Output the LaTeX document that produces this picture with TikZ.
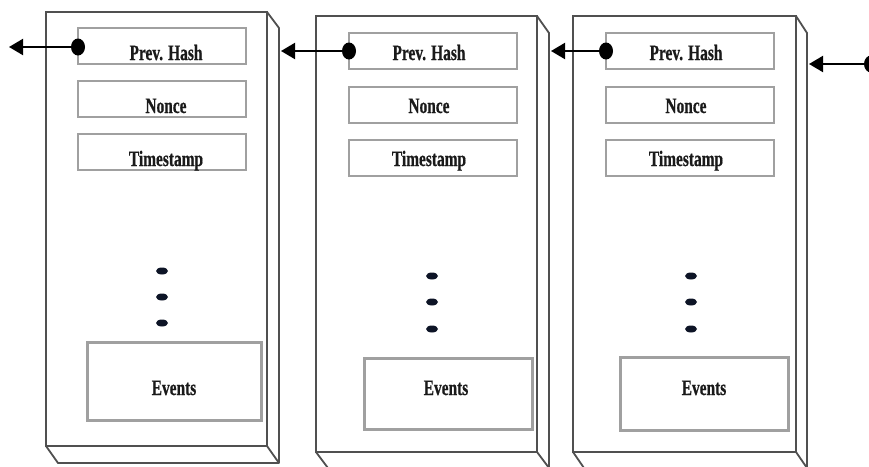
\documentclass[tikz,border=0pt]{standalone}
\usepackage{fontspec}
\setmainfont{Liberation Serif}
\newfontfamily\lblfont[FakeStretch=0.70,FakeBold=0.6]{Liberation Serif}
\usetikzlibrary{arrows.meta,shapes.geometric}
\definecolor{edge}{HTML}{505050}
\definecolor{fieldc}{HTML}{A0A0A0}
\definecolor{ink}{HTML}{1A1A1A}
\definecolor{dotc}{HTML}{0D1426}
\begin{document}
\begin{tikzpicture}[x=1pt,y=-1pt,
  outer/.style={draw=edge,line width=1.8pt,inner sep=0pt,outer sep=0pt,anchor=north west},
  face/.style={draw=edge,line width=1.8pt,line join=round},
  field/.style={draw=fieldc,line width=1.4pt,inner sep=0pt,outer sep=0pt,anchor=north west,minimum height=36pt},
  evbox/.style={draw=fieldc,line width=3pt,inner sep=0pt,outer sep=0pt,anchor=north west},
  lbl/.style={font=\lblfont\bfseries\fontsize{22}{22}\selectfont,text=ink,anchor=base,inner sep=0pt},
  hashdot/.style={ellipse,fill=black,minimum width=14pt,minimum height=17pt,inner sep=0pt},
  vdot/.style={ellipse,fill=dotc,minimum width=12pt,minimum height=7pt,inner sep=0pt},
  link/.style={draw=black,line width=2pt,-{Triangle[length=14pt,width=16pt]}}]
\useasboundingbox (0,0) rectangle (869,466);
\clip (0,0) rectangle (869,466);

% ---------- Block 1 ----------
\node[outer,minimum width=221pt,minimum height=434pt] (b1) at (46,12) {};
\draw[face] (b1.north east) -- (279,28) -- (279,463) -- (58,463) -- (b1.south west);
\draw[face] (279,463) -- (b1.south east);
\node[field,minimum width=168pt] (h1) at (78,28) {};
\node[field,minimum width=168pt] (n1) at (78,81) {};
\node[field,minimum width=168pt] (s1) at (78,134) {};
\node[lbl] (th1) at (166,60) {Prev. Hash};
\node[lbl] (tn1) at (166,113) {Nonce};
\node[lbl] (ts1) at (166,166) {Timestamp};
\node[vdot] (v1a) at (162,271) {};
\node[vdot] (v1b) at (162,297) {};
\node[vdot] (v1c) at (162,323) {};
\node[evbox,minimum width=174pt,minimum height=78pt] (e1) at (87,342) {};
\node[lbl] (te1) at (174,395) {Events};
\coordinate (r1) at (281,51);

% ---------- Block 2 ----------
\node[outer,minimum width=221pt,minimum height=436pt] (b2) at (316,16) {};
\draw[face] (b2.north east) -- (549,33) -- (549,468) -- (328,468) -- (b2.south west);
\draw[face] (549,468) -- (b2.south east);
\node[field,minimum width=168pt] (h2) at (349,33) {};
\node[field,minimum width=168pt] (n2) at (349,87) {};
\node[field,minimum width=168pt] (s2) at (349,140) {};
\node[lbl] (th2) at (429,60) {Prev. Hash};
\node[lbl] (tn2) at (429,113) {Nonce};
\node[lbl] (ts2) at (429,166) {Timestamp};
\node[vdot] (v2a) at (432,276) {};
\node[vdot] (v2b) at (432,302) {};
\node[vdot] (v2c) at (432,329) {};
\node[evbox,minimum width=168pt,minimum height=71pt] (e2) at (364,358) {};
\node[lbl] (te2) at (446,395) {Events};
\coordinate (r2) at (551,51);

% ---------- Block 3 ----------
\node[outer,minimum width=223pt,minimum height=436pt] (b3) at (573,16) {};
\draw[face] (b3.north east) -- (807,33) -- (807,468) -- (584,468) -- (b3.south west);
\draw[face] (807,468) -- (b3.south east);
\node[field,minimum width=168pt] (h3) at (606,33) {};
\node[field,minimum width=168pt] (n3) at (606,87) {};
\node[field,minimum width=168pt] (s3) at (606,140) {};
\node[lbl] (th3) at (686,60) {Prev. Hash};
\node[lbl] (tn3) at (686,113) {Nonce};
\node[lbl] (ts3) at (686,166) {Timestamp};
\node[vdot] (v3a) at (691,276) {};
\node[vdot] (v3b) at (691,302) {};
\node[vdot] (v3c) at (691,329) {};
\node[evbox,minimum width=168pt,minimum height=73pt] (e3) at (620,357) {};
\node[lbl] (te3) at (704,395) {Events};
\coordinate (r3) at (809,64);

% ---------- links ----------
\coordinate (t0) at (9,47);
\node[hashdot] (d1) at (78,47) {};
\node[hashdot] (d2) at (349,51) {};
\node[hashdot] (d3) at (606,51) {};
\node[hashdot] (d4) at (871,64) {};
\draw[link] (d1.center) -- (t0);
\draw[link] (d2.center) -- (r1);
\draw[link] (d3.center) -- (r2);
\draw[link] (d4.center) -- (r3);
\end{tikzpicture}
\end{document}
